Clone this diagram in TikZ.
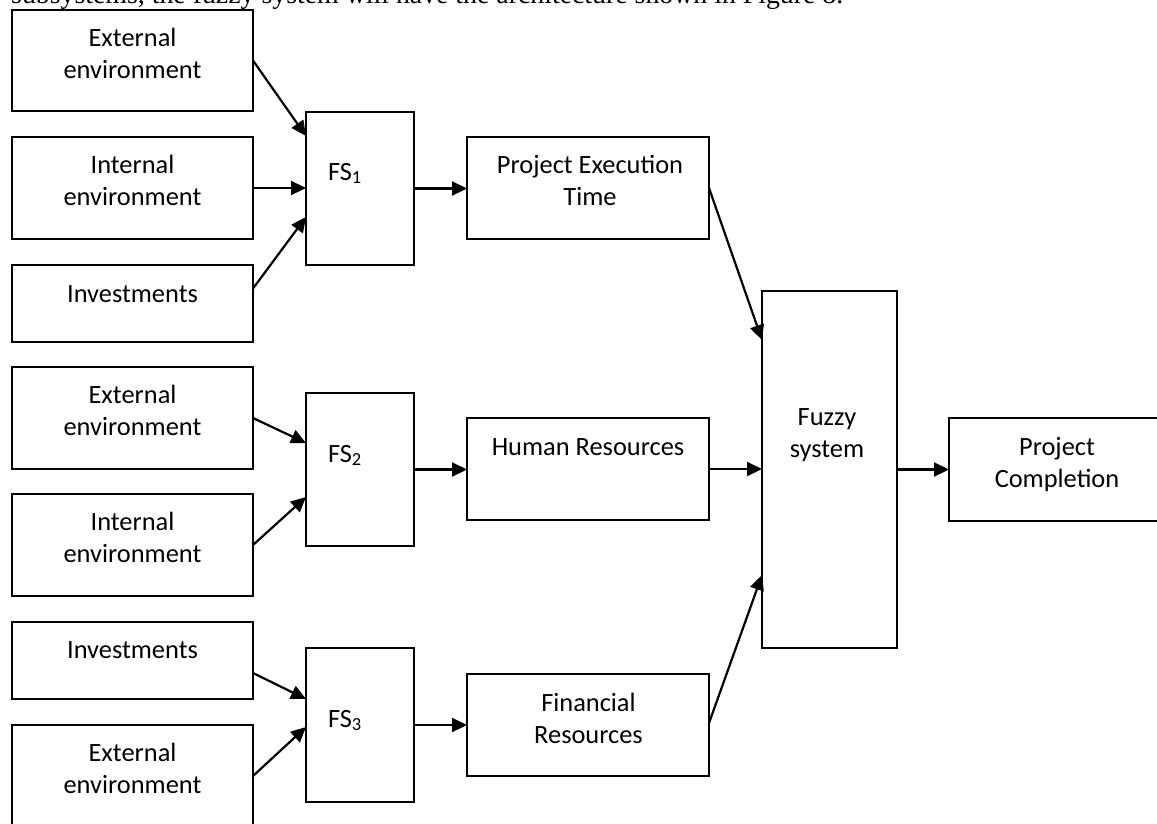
\documentclass[tikz,border=0pt]{standalone}
\usepackage{fontspec}
\setmainfont{Carlito}
\newfontfamily\captionserif{Liberation Serif}
\usetikzlibrary{arrows.meta,calc}
\newcommand\twol[2]{\begin{tabular}[t]{@{}c@{}}#1\\#2\end{tabular}}
\begin{document}
\begin{tikzpicture}[x=1pt,y=-1pt,
  font=\fontsize{26.4}{32}\selectfont,
  bx/.style={draw,line width=1.6pt,inner sep=0pt,outer sep=0pt},
  lbl/.style={anchor=base,inner sep=0pt,outer sep=0pt},
  fsl/.style={anchor=base west,inner sep=0pt,outer sep=0pt},
  arr/.style={line width=2.2pt,-{Triangle[length=15pt,width=14pt]}}]
\useasboundingbox (0,0) rectangle (1157,823);
\clip (0,0) rectangle (1157,823);
\fill[white] (0,0) rectangle (1157,823);

% cropped caption line at the top
\node[anchor=base west,inner sep=0pt] (cap) at (11,3)
  {\resizebox{832pt}{!}{\captionserif\fontsize{26}{30}\selectfont subsystems, the fuzzy system will have the architecture shown in Figure 8.}};

% input boxes
\node[bx,minimum width=241pt,minimum height=101pt] (e1) at (132.5,60.5) {};
\node[bx,minimum width=241pt,minimum height=102pt] (i1) at (132.5,188) {};
\node[bx,minimum width=241pt,minimum height=77pt] (inv1) at (132.5,303.5) {};
\node[bx,minimum width=241pt,minimum height=102pt] (e2) at (132.5,418) {};
\node[bx,minimum width=241pt,minimum height=102pt] (i2) at (132.5,545) {};
\node[bx,minimum width=241pt,minimum height=77pt] (inv2) at (132.5,660.5) {};
\node[bx,minimum width=241pt,minimum height=102pt] (e3) at (132.5,776) {};

% FS boxes
\node[bx,minimum width=108pt,minimum height=153pt] (fs1) at (360,188.5) {};
\node[bx,minimum width=108pt,minimum height=153pt] (fs2) at (360,469.5) {};
\node[bx,minimum width=108pt,minimum height=154pt] (fs3) at (360,725) {};

% intermediate outputs
\node[bx,minimum width=242pt,minimum height=102pt] (pet) at (588,188) {};
\node[bx,minimum width=242pt,minimum height=102pt] (hr) at (588,469) {};
\node[bx,minimum width=242pt,minimum height=102pt] (fr) at (588,725) {};

% fuzzy system and output
\node[bx,minimum width=135pt,minimum height=357pt] (fz) at (829.5,469.5) {};
\node[bx,minimum width=242pt,minimum height=103pt] (pc) at (1070,469.5) {};

% texts
\node[lbl] (te1) at (132.5,46) {\twol{External}{environment}};
\node[lbl] (ti1) at (132.5,173) {\twol{Internal}{environment}};
\node[lbl] (tv1) at (132.5,302) {Investments};
\node[lbl] (te2) at (132.5,403) {\twol{External}{environment}};
\node[lbl] (ti2) at (132.5,530) {\twol{Internal}{environment}};
\node[lbl] (tv2) at (132.5,658) {Investments};
\node[lbl] (te3) at (132.5,761) {\twol{External}{environment}};
\node[fsl] (tf1) at (328,180) {FS\textsubscript{1}};
\node[fsl] (tf2) at (328,462) {FS\textsubscript{2}};
\node[fsl] (tf3) at (328,727) {FS\textsubscript{3}};
\node[lbl] (tpet) at (590,173) {\twol{Project Execution}{Time\hspace{20pt}}};
\node[lbl] (thr) at (588,455) {Human Resources};
\node[lbl] (tfr) at (588.5,711) {\twol{Financial}{Resources}};
\node[lbl] (tfz) at (827,425) {\twol{Fuzzy}{system}};
\node[lbl] (tpc) at (1057,455) {\twol{Project}{Completion}};

% connectors
\draw[arr] (e1.east) -- ([shift={(0,-52.5)}]fs1.west);
\draw[arr] (i1.east) -- (i1.east -| fs1.west);
\draw[arr] ([shift={(0,-15)}]inv1.east) -- ([shift={(0,28.5)}]fs1.west);
\draw[arr] (fs1.east) -- (fs1.east -| pet.west);
\draw[arr] (pet.east) -- ([shift={(0,-129.5)}]fz.west);

\draw[arr] (e2.east) -- ([shift={(0,-26.5)}]fs2.west);
\draw[arr] (i2.east) -- ([shift={(0,27.5)}]fs2.west);
\draw[arr] (fs2.east) -- (fs2.east -| hr.west);
\draw[arr] (hr.east) -- (hr.east -| fz.west);
\draw[arr] (fz.east) -- (fz.east -| pc.west);

\draw[arr] ([shift={(0,12.5)}]inv2.east) -- ([shift={(0,-26)}]fs3.west);
\draw[arr] (e3.east) -- ([shift={(0,2)}]fs3.west);
\draw[arr] (fs3.east) -- (fs3.east -| fr.west);
\draw[arr] ([shift={(0,-2)}]fr.east) -- ([shift={(0,105.5)}]fz.west);
\end{tikzpicture}
\end{document}
